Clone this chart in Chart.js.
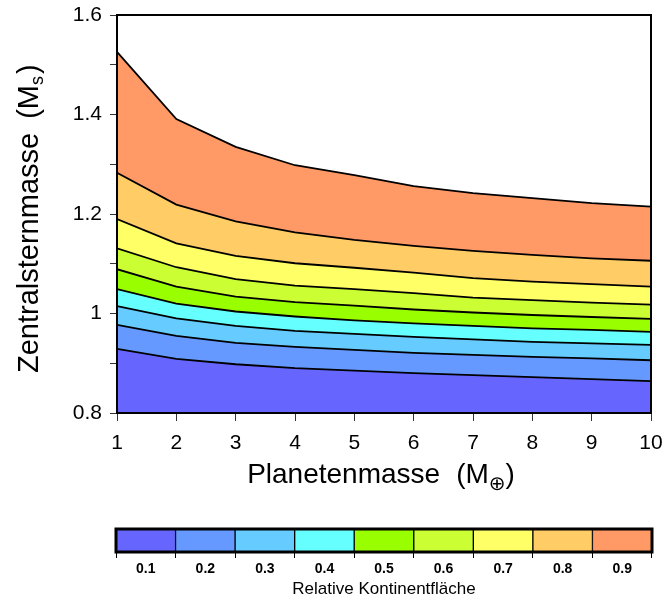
<!DOCTYPE html>
<html>
<head>
<meta charset="utf-8">
<script src="https://cdn.jsdelivr.net/npm/chart.js@4/dist/chart.umd.min.js"></script>
<style>
  body { margin: 0; background: #fff; }
  canvas { display: block; }
</style>
</head>
<body>
<canvas id="contourChart" width="662" height="500"></canvas>
<canvas id="colorBar" width="662" height="97"></canvas>
<script>
// Planetenmasse (x) und Konturlinien der Zentralsternmasse (y)
const planetMass = [1, 2, 3, 4, 5, 6, 7, 8, 9, 10];
const contour01 = [0.929, 0.909, 0.898, 0.890, 0.885, 0.880, 0.876, 0.872, 0.868, 0.864];
const contour02 = [0.977, 0.955, 0.941, 0.933, 0.927, 0.921, 0.917, 0.913, 0.910, 0.906];
const contour03 = [1.015, 0.990, 0.975, 0.965, 0.959, 0.953, 0.948, 0.943, 0.940, 0.937];
const contour04 = [1.049, 1.020, 1.004, 0.994, 0.986, 0.980, 0.975, 0.970, 0.967, 0.963];
const contour05 = [1.089, 1.054, 1.034, 1.023, 1.016, 1.008, 1.002, 0.997, 0.993, 0.989];
const contour06 = [1.131, 1.093, 1.069, 1.056, 1.049, 1.041, 1.032, 1.027, 1.022, 1.018];
const contour07 = [1.190, 1.141, 1.116, 1.101, 1.092, 1.082, 1.071, 1.064, 1.059, 1.054];
const contour08 = [1.283, 1.219, 1.185, 1.163, 1.148, 1.136, 1.126, 1.118, 1.111, 1.106];
const contour09 = [1.526, 1.391, 1.335, 1.298, 1.278, 1.256, 1.242, 1.232, 1.222, 1.215];

// Farbskala
const levelLabels = ['0.1', '0.2', '0.3', '0.4', '0.5', '0.6', '0.7', '0.8', '0.9'];
const bandColors = ['#6666ff', '#6699ff', '#66ccff', '#66ffff', '#99ff00',
                    '#ccff33', '#ffff66', '#ffcc66', '#ff9966'];

const contours = [contour01, contour02, contour03, contour04, contour05,
                  contour06, contour07, contour08, contour09];

Chart.defaults.font.family = "'Liberation Sans', 'DejaVu Sans', sans-serif";
Chart.defaults.color = '#000';

// Rahmen um die Zeichenfläche
const framePlugin = {
    id: 'frame',
    afterDraw(chart, args, opts) {
        const a = chart.chartArea;
        const ctx = chart.ctx;
        ctx.save();
        ctx.strokeStyle = '#000';
        ctx.lineWidth = opts.width || 2;
        ctx.strokeRect(a.left, a.top, a.right - a.left, a.bottom - a.top);
        ctx.restore();
    }
};

// Text mit Index (Subskript) zeichnen
function drawParts(ctx, parts) {
    let x = 0;
    parts.forEach(p => {
        ctx.font = p.font;
        ctx.fillText(p.text, x, p.dy || 0);
        x += ctx.measureText(p.text).width + (p.gap || 0);
    });
}
function partsWidth(ctx, parts) {
    let w = 0;
    parts.forEach(p => {
        ctx.font = p.font;
        w += ctx.measureText(p.text).width + (p.gap || 0);
    });
    return w;
}

const FAM = "'Liberation Sans', 'DejaVu Sans', sans-serif";

const axisTitlePlugin = {
    id: 'axisTitles',
    afterDraw(chart) {
        const a = chart.chartArea;
        const ctx = chart.ctx;
        ctx.save();
        ctx.fillStyle = '#000';
        ctx.textBaseline = 'alphabetic';
        ctx.textAlign = 'left';

        // x-Achse
        const xParts = [
            { text: 'Planetenmasse', font: '28px ' + FAM, gap: 16 },
            { text: '(M', font: '28px ' + FAM },
            { text: '\u2295', font: "20px 'DejaVu Sans', sans-serif", dy: 7 },
            { text: ')', font: '28px ' + FAM }
        ];
        const xw = partsWidth(ctx, xParts);
        ctx.save();
        ctx.translate((a.left + a.right) / 2 - 3 - xw / 2, a.bottom + 70);
        drawParts(ctx, xParts);
        ctx.restore();

        // y-Achse
        const yParts = [
            { text: 'Zentralsternmasse', font: '29px ' + FAM, gap: 14 },
            { text: '(M', font: '29px ' + FAM },
            { text: 's', font: '18px ' + FAM, dy: 5, gap: 2 },
            { text: ')', font: '29px ' + FAM }
        ];
        ctx.save();
        ctx.translate(a.left - 79, a.bottom - 40);
        ctx.rotate(-Math.PI / 2);
        drawParts(ctx, yParts);
        ctx.restore();
        ctx.restore();
    }
};

const datasets = contours.map((values, i) => ({
    label: levelLabels[i],
    data: planetMass.map((m, j) => ({ x: m, y: values[j] })),
    borderColor: '#000',
    borderWidth: 1.8,
    backgroundColor: bandColors[i],
    pointRadius: 0,
    tension: 0,
    fill: i === 0 ? 'start' : '-1'
}));

new Chart(document.getElementById('contourChart'), {
    type: 'line',
    data: { datasets },
    options: {
        responsive: false,
        animation: false,
        layout: { padding: { left: 0, top: 15, right: 11, bottom: 0 } },
        plugins: {
            legend: { display: false },
            tooltip: { enabled: false },
            filler: { drawTime: 'beforeDatasetsDraw' },
            frame: { width: 2 }
        },
        scales: {
            x: {
                type: 'linear',
                min: 1,
                max: 10,
                border: { display: false },
                grid: { drawOnChartArea: false, tickLength: 8, tickColor: '#333' },
                ticks: { stepSize: 1, autoSkip: false, maxRotation: 0, padding: 10, font: { size: 21 } },
                afterFit(scale) {
                    scale.height = 87;
                    scale.paddingLeft = 0;
                    scale.paddingRight = 0;
                }
            },
            y: {
                type: 'linear',
                min: 0.8,
                max: 1.6,
                border: { display: false },
                grid: { drawOnChartArea: false, tickLength: 7, tickColor: '#333' },
                ticks: {
                    stepSize: 0.1,
                    autoSkip: false,
                    padding: 8,
                    font: { size: 21 },
                    callback: v => {
                        const k = Math.round(v * 10);
                        return k % 2 === 0 ? String(k / 10) : '';
                    }
                },
                afterFit(scale) {
                    scale.width = 117;
                    scale.paddingTop = 0;
                    scale.paddingBottom = 0;
                }
            }
        }
    },
    plugins: [framePlugin, axisTitlePlugin]
});

// Farbskala als Balkendiagramm
const colorBarTitle = {
    id: 'colorBarTitle',
    afterDraw(chart) {
        const a = chart.chartArea;
        const ctx = chart.ctx;
        ctx.save();
        ctx.fillStyle = '#000';
        ctx.font = '17px ' + FAM;
        ctx.textAlign = 'center';
        ctx.textBaseline = 'alphabetic';
        ctx.fillText('Relative Kontinentfl\u00e4che', (a.left + a.right) / 2, a.bottom + 42);
        ctx.restore();
    }
};

new Chart(document.getElementById('colorBar'), {
    type: 'bar',
    data: {
        labels: levelLabels,
        datasets: [{
            data: levelLabels.map(() => 1),
            backgroundColor: bandColors,
            borderColor: '#000',
            borderWidth: 1,
            borderSkipped: false,
            barPercentage: 1,
            categoryPercentage: 1
        }]
    },
    options: {
        responsive: false,
        animation: false,
        layout: { padding: { left: 116, top: 29, right: 10, bottom: 0 } },
        plugins: {
            legend: { display: false },
            tooltip: { enabled: false },
            frame: { width: 3 }
        },
        scales: {
            x: {
                border: { display: false },
                grid: { drawOnChartArea: false, offset: true, tickLength: 6, tickColor: '#000' },
                ticks: { padding: 3, font: { size: 14, weight: 'bold' } },
                afterFit(scale) {
                    scale.height = 45;
                    scale.paddingLeft = 0;
                    scale.paddingRight = 0;
                }
            },
            y: { display: false, min: 0, max: 1 }
        }
    },
    plugins: [framePlugin, colorBarTitle]
});
</script>
</body>
</html>
